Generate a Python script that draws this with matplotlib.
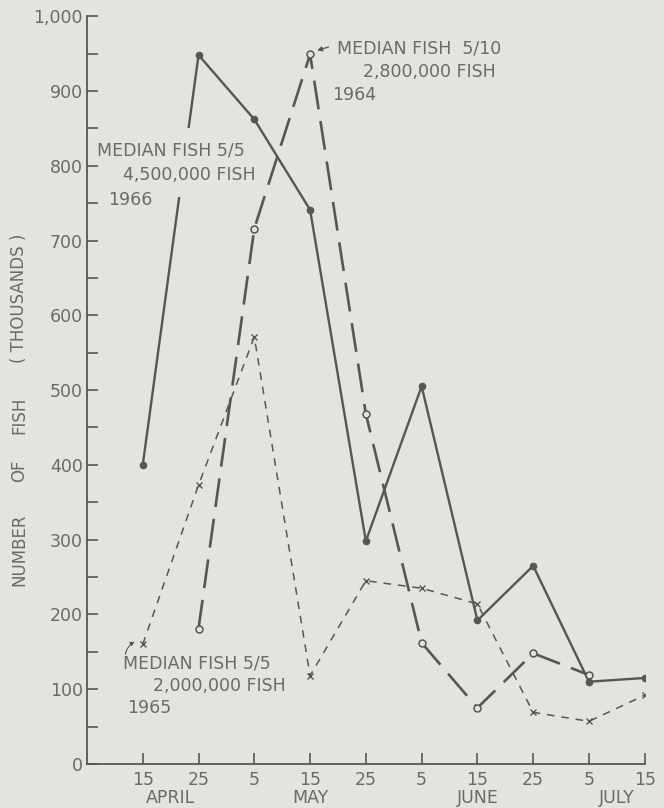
import matplotlib
matplotlib.use("Agg")
import matplotlib.pyplot as plt
from matplotlib.patches import Rectangle
import numpy as np

BG = "#e2e4df"
INK = "#565656"
TXT = "#6a6a6a"
FS = 12.5

# x positions: 10-day intervals from 15 April to 15 July
day_labels = ["15", "25", "5", "15", "25", "5", "15", "25", "5", "15"]
month_labels = ["APRIL", "MAY", "JUNE", "JULY"]
month_pos = [0.5, 3, 6, 8.5]

# 1966 (solid, filled dots), starts 15 Apr
y1966 = [400, 948, 862, 741, 298, 505, 192, 265, 110, 115]
x1966 = list(range(10))
# 1964 (long dash, open circles), 25 Apr .. 5 Jul
y1964 = [181, 716, 949, 468, 162, 75, 148, 119]
x1964 = list(range(1, 9))
# 1965 (short dash, x), 15 Apr .. 15 Jul
y1965 = [160, 373, 571, 118, 245, 235, 214, 69, 57, 92]
x1965 = list(range(10))

plt.rcParams["font.family"] = ["DejaVu Sans"]

fig = plt.figure(figsize=(6.64, 8.08), dpi=100)
fig.patch.set_facecolor(BG)
ax = fig.add_axes([0.131, 0.0545, 0.84, 0.9255])
ax.set_facecolor(BG)

ax.plot(x1966, y1966, color=INK, lw=1.7, marker="o", ms=4.5,
        mfc=INK, mec=INK, zorder=2)
ax.plot(x1964, y1964, color=INK, lw=1.9, dashes=(11, 4.5), marker="o",
        ms=5, mfc=BG, mec=INK, mew=1.1, zorder=4)
ax.plot(x1965, y1965, color=INK, lw=1.1, dashes=(5, 4.5), marker="x",
        ms=4, mec=INK, mew=1.0, zorder=4)

ax.set_xlim(-1, 9)
ax.set_ylim(0, 1000)
for s in ("top", "right"):
    ax.spines[s].set_visible(False)
for s in ("left", "bottom"):
    ax.spines[s].set_color(INK)
    ax.spines[s].set_linewidth(1.3)

ax.set_yticks(np.arange(0, 1001, 100))
ax.set_yticks(np.arange(50, 1000, 100), minor=True)
ax.set_yticklabels(["0", "100", "200", "300", "400", "500", "600", "700",
                    "800", "900", "1,000"])
ax.set_xticks(range(10))
ax.set_xticklabels(day_labels)
ax.tick_params(axis="both", which="both", direction="in", length=8,
               width=1.2, color=INK, labelcolor=TXT, labelsize=FS)
ax.tick_params(axis="y", pad=3)
ax.tick_params(axis="x", pad=5)

for m, p in zip(month_labels, month_pos):
    ax.text(p, -0.045, m, transform=ax.get_xaxis_transform(), ha="center",
            va="center", color=TXT, fontsize=FS)

# y label, word by word to match the wide lettering
for word, yc in [("NUMBER", 0.319), ("OF", 0.417), ("FISH", 0.486),
                 ("( THOUSANDS )", 0.631)]:
    fig.text(0.029, yc, word, rotation=90, ha="center", va="center",
             color=TXT, fontsize=12)

# break the 1966 line behind its label
ax.add_patch(Rectangle((0.3, 758), 0.7, 92, facecolor=BG, edgecolor="none",
                       zorder=3))
box = dict(facecolor=BG, edgecolor="none", pad=1.0)
ax.text(-0.82, 821, "MEDIAN FISH 5/5", color=TXT, fontsize=FS,
        va="center", ha="left", bbox=box, zorder=3)
ax.text(-0.35, 787, "4,500,000 FISH", color=TXT, fontsize=FS,
        va="center", ha="left", bbox=box, zorder=3)
ax.text(-0.62, 754, "1966", color=TXT, fontsize=FS,
        va="center", ha="left", bbox=box, zorder=3)

ax.text(3.48, 957, "MEDIAN FISH  5/10", color=TXT, fontsize=FS,
        va="center", ha="left")
ax.text(3.94, 925, "2,800,000 FISH", color=TXT, fontsize=FS,
        va="center", ha="left")
ax.text(3.4, 894, "1964", color=TXT, fontsize=FS, va="center", ha="left")
ax.annotate("", xy=(3.08, 953), xytext=(3.38, 960),
            arrowprops=dict(arrowstyle="-|>", color=INK, lw=0.9,
                            mutation_scale=7))

ax.text(-0.35, 134, "MEDIAN FISH 5/5", color=TXT, fontsize=FS,
        va="center", ha="left")
ax.text(0.18, 104, "2,000,000 FISH", color=TXT, fontsize=FS,
        va="center", ha="left")
ax.text(-0.28, 75, "1965", color=TXT, fontsize=FS, va="center", ha="left")
ax.annotate("", xy=(-0.1, 165), xytext=(-0.32, 143),
            arrowprops=dict(arrowstyle="-|>", color=INK, lw=0.8,
                            mutation_scale=6,
                            connectionstyle="arc3,rad=-0.3"))

fig.savefig("out.png", dpi=100, facecolor=BG)
